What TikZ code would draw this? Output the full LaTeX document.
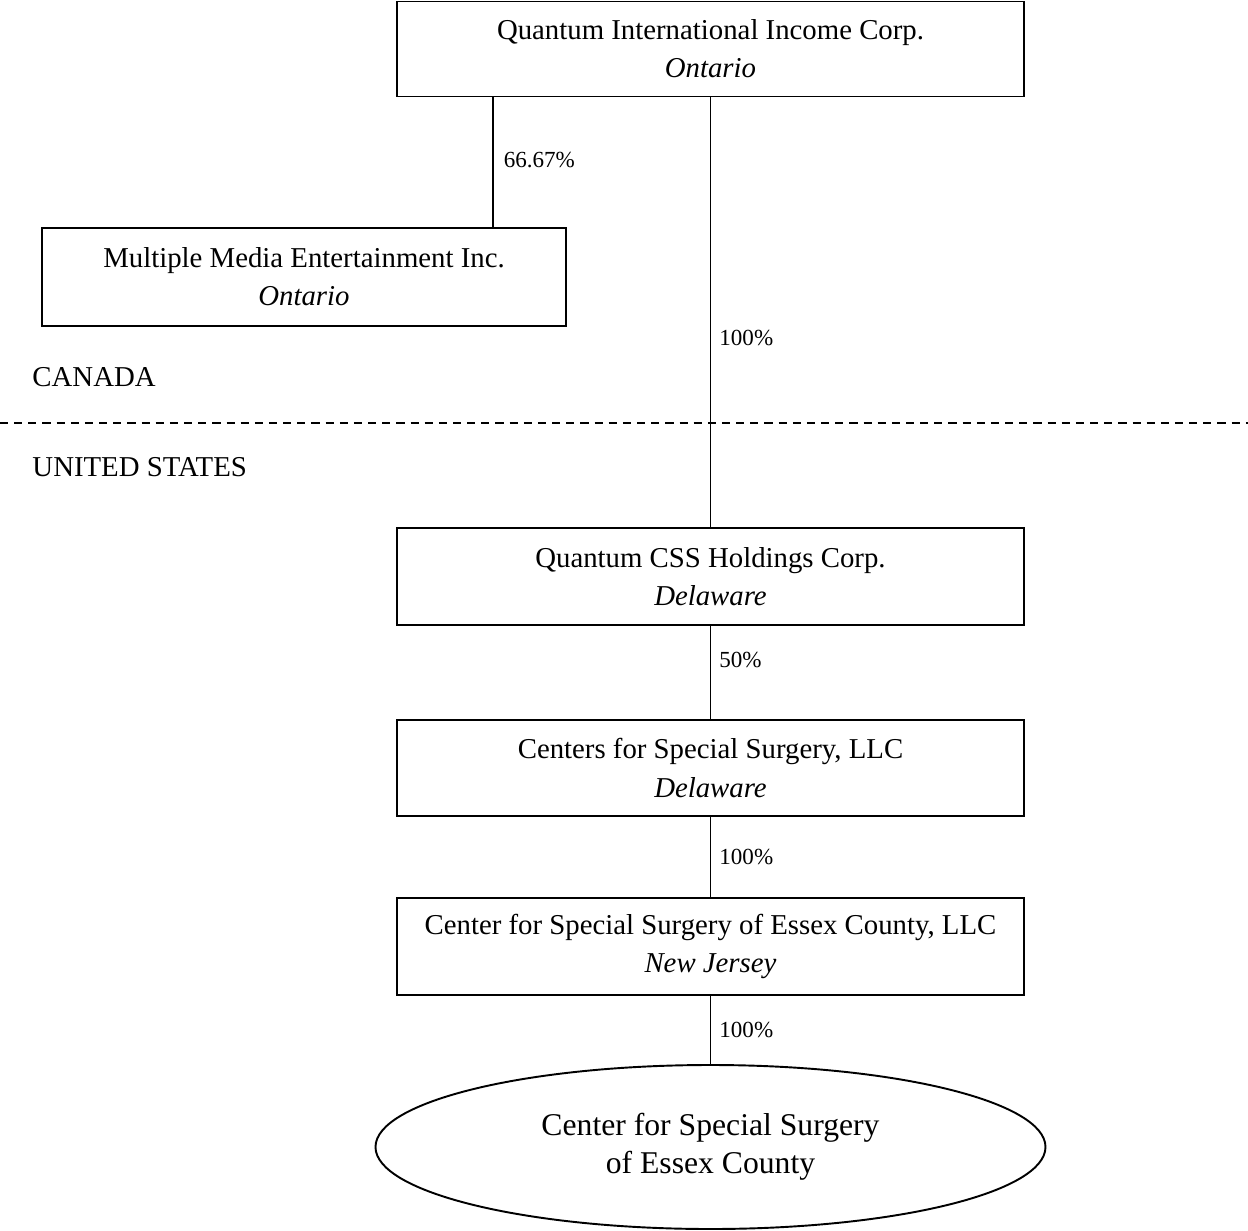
\documentclass[tikz,border=0pt]{standalone}
\usepackage{fontspec}
\setmainfont{Liberation Serif}
\usepackage{xcolor}
\usetikzlibrary{shapes.geometric}

\tikzset{
  entity/.style={draw, line width=0.8pt, align=center, inner sep=0pt,
    font=\fontsize{12}{15.9}\selectfont},
  pct/.style={font=\fontsize{9.6}{11}\selectfont, anchor=west, inner sep=0pt},
  link/.style={line width=0.8pt},
  region/.style={font=\fontsize{12}{14}\selectfont, anchor=west, inner sep=0pt}
}

\begin{document}
\begin{tikzpicture}[x=0.01465cm, y=-0.01465cm]
  \useasboundingbox (0,0) rectangle (1248,1231);

  % Canadian entities
  \node[entity, minimum width=627*0.01465cm, minimum height=95*0.01465cm] (quantum) at (710.5,49)
       {Quantum International Income Corp.\\ \textit{Ontario}};
  \node[entity, minimum width=524*0.01465cm, minimum height=98*0.01465cm] (mme) at (304,277)
       {Multiple Media Entertainment Inc.\\ \textit{Ontario}};

  % Border between countries
  \node[region] (canada) at (32,377) {CANADA};
  \node[region] (usa) at (32,467) {UNITED STATES};
  \coordinate (borderL) at (0,423);
  \coordinate (borderR) at (1248,423);
  \draw[line width=0.8pt, dash pattern=on 3.4pt off 2.5pt] (borderL) -- (borderR);

  % US entities
  \node[entity, minimum width=627*0.01465cm, minimum height=97*0.01465cm] (css) at (710.5,576.5)
       {Quantum CSS Holdings Corp.\\ \textit{Delaware}};
  \node[entity, minimum width=627*0.01465cm, minimum height=96*0.01465cm] (centers) at (710.5,768)
       {Centers for Special Surgery, LLC\\ \textit{Delaware}};
  \node[entity, minimum width=627*0.01465cm, minimum height=97*0.01465cm] (essexllc) at (710.5,946.5)
       {Center for Special Surgery of Essex County, LLC\\ \textit{New Jersey}};
  \node[entity, ellipse, minimum width=670*0.01465cm, minimum height=164*0.01465cm,
        font=\fontsize{13.2}{15.9}\selectfont] (essex) at (710.5,1147)
       {Center for Special Surgery\\ of Essex County};

  % Ownership links
  \path (mme.north east) ++(-74,0) coordinate (mmetop);
  \draw[link] (mmetop |- quantum.south) -- node[pct, pos=0.48, xshift=10*0.01465cm] {66.67\%} (mmetop);
  \draw[link] (quantum.south) -- node[pct, pos=0.56, xshift=8*0.01465cm] {100\%} (css.north);
  \draw[link] (css.south) -- node[pct, pos=0.37, xshift=8*0.01465cm] {50\%} (centers.north);
  \draw[link] (centers.south) -- node[pct, xshift=8*0.01465cm] {100\%} (essexllc.north);
  \draw[link] (essexllc.south) -- node[pct, xshift=8*0.01465cm] {100\%} (essex.north);
\end{tikzpicture}
\end{document}
